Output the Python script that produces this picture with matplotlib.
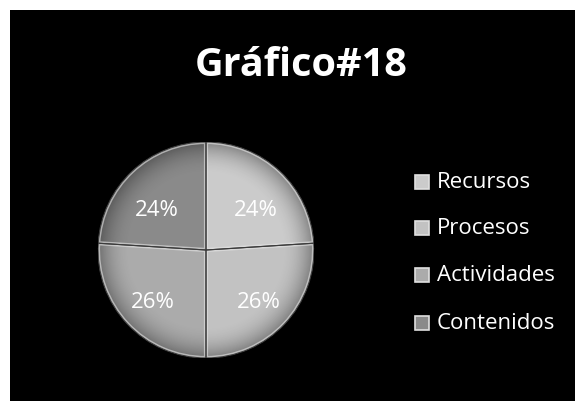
import numpy as np
import matplotlib.pyplot as plt
from matplotlib.patches import Rectangle, Circle, Wedge

title = "Gráfico#18"
labels = ["Recursos", "Procesos", "Actividades", "Contenidos"]
values = [24, 26, 26, 24]
colors = ["#cbcbcb", "#c2c2c2", "#ababab", "#8a8a8a"]

W, H = 575, 402
fig = plt.figure(figsize=(W / 100, H / 100), dpi=100)
fig.patch.set_facecolor("white")
fig.patches.append(Rectangle((10 / W, 0), 1 - 10 / W, 1 - 11 / H,
                             transform=fig.transFigure, facecolor="black",
                             edgecolor="none", zorder=-5))

font = "Open Sans"

# pie centre and radius in pixels
cx, cy, r = 206, 251, 108
ax = fig.add_axes([(cx - r) / W, (H - cy - r) / H, 2 * r / W, 2 * r / H])
wedges, texts = ax.pie(values, colors=colors, startangle=90, counterclock=False,
                       radius=1, wedgeprops=dict(edgecolor="none"))

# bevel look: darker toward the rim, light strip along the slice edges
n = 300
xx, yy = np.meshgrid(np.linspace(-1, 1, n), np.linspace(-1, 1, n))
rr = np.hypot(xx, yy)
shade = np.zeros((n, n, 4))
shade[..., 3] = np.clip((rr - 0.7) / 0.3, 0, 1) ** 2 * 0.35
img = ax.imshow(shade, extent=(-1, 1, -1, 1), origin="lower", zorder=2)
img.set_clip_path(Circle((0, 0), 1, transform=ax.transData))

for w in wedges:
    ax.add_patch(Wedge(w.center, w.r, w.theta1, w.theta2, fill=False,
                       edgecolor="#e6e6e6", linewidth=3, alpha=0.6, zorder=3,
                       clip_path=w))
    ax.add_patch(Wedge(w.center, w.r, w.theta1, w.theta2, fill=False,
                       edgecolor="#3c3c3c", linewidth=0.8, zorder=4))

ax.set_xlim(-1, 1)
ax.set_ylim(-1, 1)
ax.set_aspect("equal")
ax.axis("off")

# percentage labels
total = sum(values)
ang = 90
for v in values:
    span = 360 * v / total
    mid = np.deg2rad(ang - span / 2)
    ax.text(0.67 * np.cos(mid), 0.6 * np.sin(mid) - 0.065, f"{v}%",
            ha="center", va="center", color="white", fontsize=16,
            family=font, zorder=5)
    ang -= span

fig.text(301 / W, 1 - 66 / H, title, ha="center", va="center", color="white",
         fontsize=28.5, fontweight="bold", family=font)

# legend
ys = [183, 229, 276, 324]
for lab, col, y in zip(labels, colors, ys):
    fig.patches.append(Rectangle((415 / W, 1 - (y + 7) / H), 14 / W, 14 / H,
                                 transform=fig.transFigure, facecolor=col,
                                 edgecolor="#e0e0e0", linewidth=1.2, zorder=2))
    fig.text(437 / W, 1 - y / H, lab, ha="left", va="center", color="white",
             fontsize=16, family=font)

fig.savefig("out.png", dpi=100, facecolor=fig.get_facecolor())
